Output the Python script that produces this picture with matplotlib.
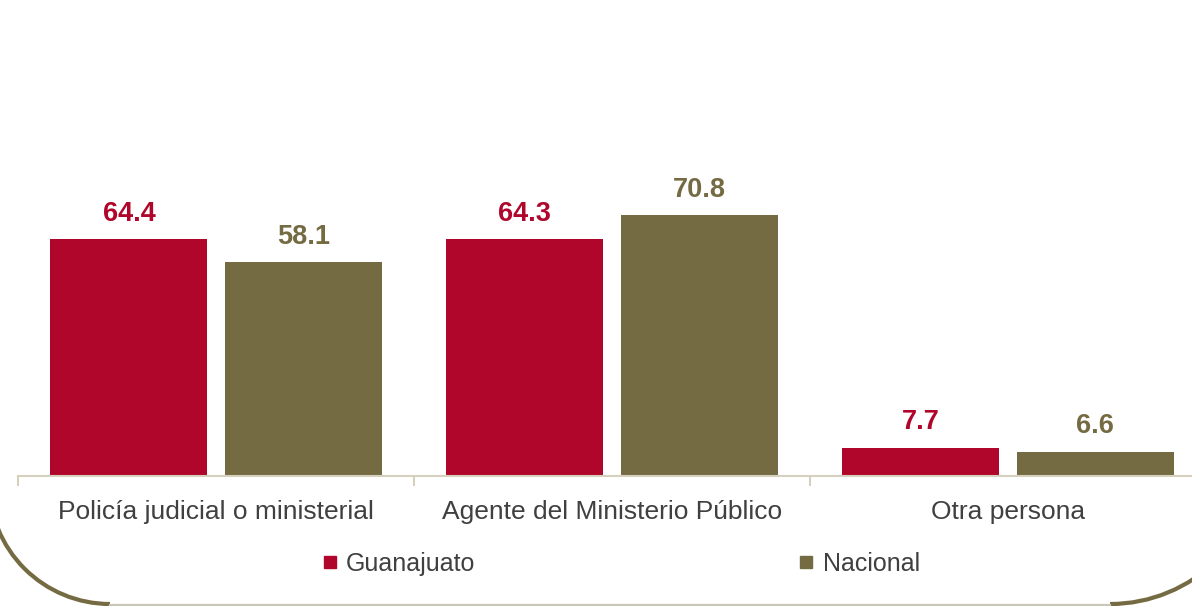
import matplotlib.pyplot as plt
import numpy as np
from matplotlib.patches import Arc
from matplotlib.lines import Line2D
from matplotlib.transforms import Affine2D

categories = ["Policía judicial o ministerial", "Agente del Ministerio Público", "Otra persona"]
series_names = ["Guanajuato", "Nacional"]
guanajuato = [64.4, 64.3, 7.7]
nacional = [58.1, 70.8, 6.6]

RED = "#B0062C"
OLIVE = "#756B43"
AXIS = "#D6D1BF"
TEXT = "#404040"

W, H = 1192, 606
fig = plt.figure(figsize=(W / 100, H / 100), dpi=100)
fig.patch.set_facecolor("white")

# axes extends a bit past the right edge, like the cropped original
ax = fig.add_axes([18 / W, (H - 476) / H, 3 * 396 / W, 476 / H])
ax.set_facecolor("none")

x = np.arange(len(categories))
width = 0.397
offset = 0.22
bars_g = ax.bar(x - offset, guanajuato, width, color=RED)
bars_n = ax.bar(x + offset, nacional, width, color=OLIVE)

for bars, vals, col in [(bars_g, guanajuato, RED), (bars_n, nacional, OLIVE)]:
    for b, v in zip(bars, vals):
        ax.annotate(f"{v:.1f}", (b.get_x() + b.get_width() / 2, v),
                    xytext=(0, 9), textcoords="offset points",
                    ha="center", va="bottom", color=col, fontsize=19.5,
                    fontweight="bold", family="Liberation Sans")

ax.set_xlim(-0.5, 2.5)
ax.set_ylim(0, 476 / 3.68)
for s in ["top", "right", "left"]:
    ax.spines[s].set_visible(False)
ax.spines["bottom"].set_color(AXIS)
ax.spines["bottom"].set_linewidth(1.5)
ax.set_yticks([])
ax.set_xticks(x)
ax.set_xticklabels(categories, fontsize=19, color=TEXT, family="Liberation Sans")
ax.tick_params(axis="x", which="major", length=0, pad=17)
ax.set_xticks([-0.5, 0.5, 1.5, 2.5], minor=True)
ax.tick_params(axis="x", which="minor", length=7.5, width=1.5, color=AXIS)

handles = [Line2D([], [], marker="s", linestyle="none", color=c, markersize=9)
           for c in (RED, OLIVE)]
fig.legend(handles, series_names, loc="center", bbox_to_anchor=(619 / W, 1 - 564 / H),
           ncol=2, frameon=False, handletextpad=0.2,
           columnspacing=12.8, handlelength=0.9,
           prop={"family": "Liberation Sans", "size": 18}, labelcolor=TEXT)

# rounded frame at the bottom, in pixel coords (y downward)
px = Affine2D().scale(1, -1).translate(0, H) + Affine2D().scale(1 / W, 1 / H) + fig.transFigure
fig.add_artist(Line2D([110, 1110], [604.5, 604.5], color="#C9C6B8", lw=1.6, transform=px))
fig.add_artist(Arc((110, 483), 242, 242, theta1=90, theta2=180, color=OLIVE, lw=3, transform=px))
fig.add_artist(Arc((1110, 452), 304, 304, theta1=0, theta2=90, color=OLIVE, lw=3, transform=px))

fig.savefig("out.png", dpi=100, facecolor="white")
